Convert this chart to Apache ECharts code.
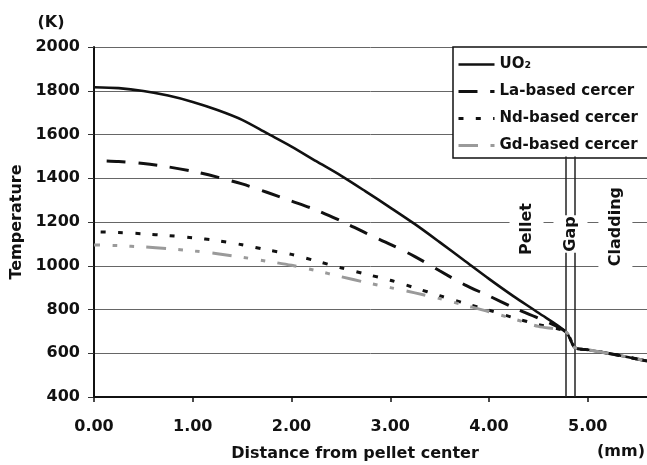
<!DOCTYPE html>
<html>
<head>
<meta charset="utf-8">
<title>Radial temperature distribution</title>
<script src="https://cdn.jsdelivr.net/npm/echarts@6/dist/echarts.min.js"></script>
<style>
  html, body { margin: 0; padding: 0; background: #fff; }
  #chart { width: 647px; height: 465px; }
</style>
</head>
<body>
<div id="chart"></div>
<script>
// Radial positions (mm) from the pellet centre out through the gap into the cladding
const radius = [0, 0.25, 0.5, 0.75, 1.0, 1.25, 1.5, 1.75, 2.0, 2.25, 2.5, 2.75, 3.0,
                3.25, 3.5, 3.75, 4.0, 4.25, 4.5, 4.78, 4.87, 5.0, 5.2, 5.4, 5.6];

// Temperatures (K) at each radius
const tempUO2 = [1816, 1812, 1799, 1778, 1749, 1712, 1667, 1606, 1545, 1478, 1412, 1340, 1266,
                 1190, 1108, 1024, 940, 860, 785, 697, 626, 616, 600, 583, 565];
const tempLa  = [1481, 1477, 1467, 1452, 1432, 1405, 1374, 1336, 1296, 1255, 1205, 1150, 1098,
                 1042, 977, 914, 862, 808, 760, 697, 626, 616, 600, 583, 565];
const tempNd  = [1155, 1152, 1146, 1138, 1128, 1115, 1096, 1073, 1052, 1022, 991, 962, 934,
                 899, 863, 829, 797, 762, 731, 697, 626, 616, 600, 583, 565];
const tempGd  = [1095, 1092, 1086, 1078, 1068, 1055, 1039, 1021, 1002, 978, 950, 924, 900,
                 876, 850, 820, 790, 757, 723, 697, 626, 616, 600, 583, 565];

const seriesNames = ['UO\u2082', 'La-based cercer', 'Nd-based cercer', 'Gd-based cercer'];

// Region boundaries (mm): pellet surface and cladding inner surface
const pelletEdge = 4.78;
const claddingInner = 4.87;

// Region labels: [text, radius (mm), temperature (K)]
const regionLabels = [['Pellet', 4.38, 1168], ['Gap', 4.825, 1145], ['Cladding', 5.28, 1179]];

const FONT = 'DejaVu Sans';
const pairs = arr => radius.map((r, i) => [r, arr[i]]);

const chart = echarts.init(document.getElementById('chart'), null, { renderer: 'canvas' });

const styles = [
  { color: '#111', width: 2.6, type: 'solid', dashOffset: 0 },
  { color: '#111', width: 3, type: [19, 12.7], dashOffset: 19 },
  { color: '#111', width: 3, type: [5, 12.3], dashOffset: 10.6 },
  { color: '#9a9a9a', width: 3, type: [19.5, 12.5, 4.5, 12.5, 4.5, 12.5], dashOffset: 13.5 }
];
const values = [tempUO2, tempLa, tempNd, tempGd];

const series = values.map((arr, i) => ({
  name: seriesNames[i],
  type: 'line',
  data: pairs(arr),
  symbol: 'none',
  smooth: 0.3,
  silent: true,
  itemStyle: { color: styles[i].color },
  lineStyle: {
    color: styles[i].color,
    width: styles[i].width,
    type: styles[i].type,
    dashOffset: styles[i].dashOffset,
    cap: 'butt'
  },
  z: 2 + i
}));

// Boundary lines between pellet, gap and cladding
series[0].markLine = {
  silent: true,
  symbol: 'none',
  label: { show: false },
  lineStyle: { color: '#222', width: 1.5, type: 'solid' },
  data: [
    [{ coord: [pelletEdge, 400] }, { coord: [pelletEdge, 1500] }],
    [{ coord: [claddingInner, 400] }, { coord: [claddingInner, 1500] }]
  ]
};

chart.setOption({
  animation: false,
  backgroundColor: '#fff',
  grid: { left: 94, top: 47, right: -2, bottom: 68, containLabel: false },
  xAxis: {
    type: 'value',
    min: 0,
    max: 5.6,
    interval: 1,
    axisLine: { lineStyle: { color: '#111', width: 2 } },
    axisTick: { show: true, length: 5, lineStyle: { color: '#111', width: 1.5 } },
    splitLine: { show: false },
    axisLabel: {
      margin: 22,
      color: '#111',
      fontFamily: FONT,
      fontWeight: 'bold',
      fontSize: 16,
      showMaxLabel: false,
      formatter: v => (Math.abs(v - Math.round(v)) < 1e-9 ? v.toFixed(2) : '')
    }
  },
  yAxis: {
    type: 'value',
    min: 400,
    max: 2000,
    interval: 200,
    axisLine: { show: true, lineStyle: { color: '#111', width: 2 } },
    axisTick: { show: true, length: 6, lineStyle: { color: '#333', width: 1 } },
    splitLine: { show: true, lineStyle: { color: '#666', width: 1 } },
    axisLabel: {
      margin: 14,
      color: '#111',
      fontFamily: FONT,
      fontWeight: 'bold',
      fontSize: 16,
      formatter: v => String(v)
    }
  },
  legend: {
    orient: 'vertical',
    left: 453,
    top: 47,
    padding: [10, 20, 5, 4],
    itemWidth: 36,
    itemHeight: 14,
    itemGap: 12,
    backgroundColor: '#fff',
    borderColor: '#111',
    borderWidth: 1.5,
    borderRadius: 0,
    selectedMode: false,
    itemStyle: { opacity: 0 },
    textStyle: { color: '#111', fontFamily: FONT, fontWeight: 'bold', fontSize: 15 },
    // Legend samples start at the beginning of each dash pattern
    data: seriesNames.map((n, i) => ({
      name: n,
      itemStyle: { opacity: 0 },
      lineStyle: {
        color: styles[i].color,
        width: styles[i].width,
        type: styles[i].type,
        dashOffset: 0.01,
        cap: 'butt'
      }
    }))
  },
  series: series
});

// Axis titles, units and region labels
const regionGraphics = regionLabels.map(([text, r, t]) => {
  const p = chart.convertToPixel({ gridIndex: 0 }, [r, t]);
  return {
    type: 'text',
    x: p[0],
    y: p[1],
    rotation: Math.PI / 2,
    z: 100,
    style: {
      text: text,
      font: 'bold 16px "' + FONT + '"',
      fill: '#111',
      align: 'center',
      verticalAlign: 'middle',
      backgroundColor: '#fff',
      padding: [9, 1]
    }
  };
});

const titleStyle = (text) => ({
  text: text,
  font: 'bold 16px "' + FONT + '"',
  fill: '#111',
  align: 'center',
  verticalAlign: 'middle'
});

chart.setOption({
  graphic: [
    { type: 'text', x: 51, y: 23, z: 100, style: titleStyle('(K)') },
    { type: 'text', x: 17, y: 222, rotation: Math.PI / 2, z: 100, style: titleStyle('Temperature') },
    { type: 'text', x: 355, y: 454, z: 100, style: titleStyle('Distance from pellet center') },
    { type: 'text', x: 621, y: 452, z: 100, style: titleStyle('(mm)') }
  ].concat(regionGraphics)
});
</script>
</body>
</html>
